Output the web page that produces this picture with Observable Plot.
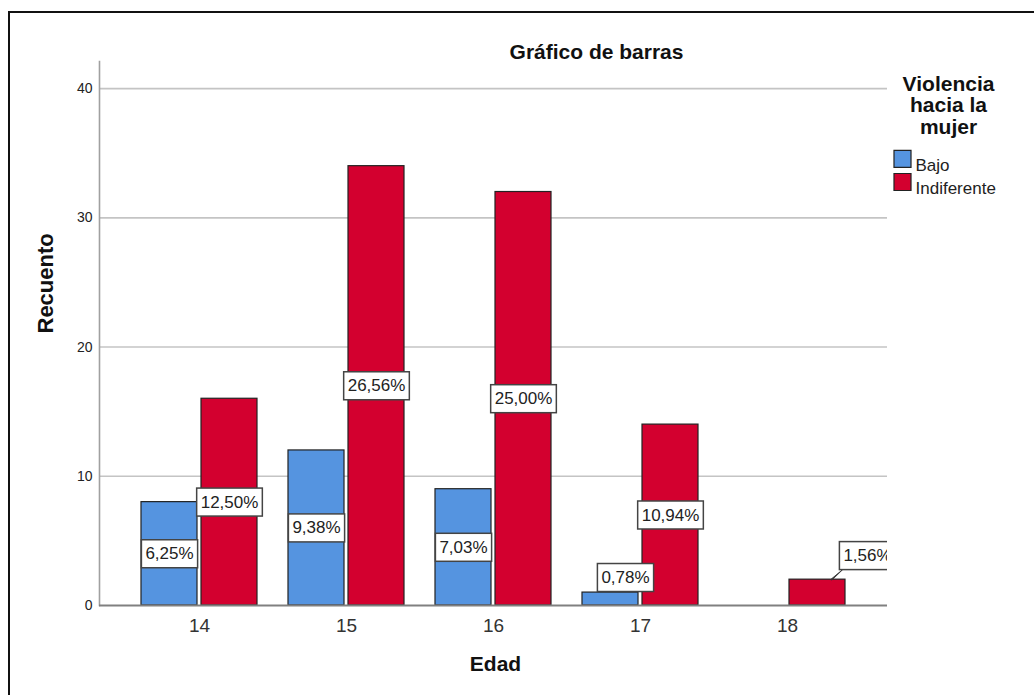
<!DOCTYPE html>
<html><head><meta charset="utf-8">
<script src="https://cdn.jsdelivr.net/npm/d3@7"></script>
<script src="https://cdn.jsdelivr.net/npm/@observablehq/plot@0.6"></script>
<style>
html,body{margin:0;padding:0;background:#fff;overflow:hidden;}
#wrap{position:relative;width:1034px;height:695px;overflow:hidden;}
#border{position:absolute;left:8px;top:11px;width:1100px;height:800px;border:2px solid #111;pointer-events:none;}
</style></head><body>
<div id="wrap"><div id="chart"></div><div id="border"></div></div>
<script>
const ages = ["14", "15", "16", "17", "18"];
const series = ["Bajo", "Indiferente"];
const bajo = [8, 12, 9, 1, 0];
const indiferente = [16, 34, 32, 14, 2];
const colors = ["#5594E0", "#D3002F"];
const yTicks = [0, 10, 20, 30, 40];
const title = "Gráfico de barras";
const yLabel = "Recuento";
const xLabel = "Edad";
const legendTitle = "Violencia\nhacia la\nmujer";

const rows = ages.flatMap((age, i) => [
  {age, series: series[0], value: bajo[i]},
  {age, series: series[1], value: indiferente[i]}
]);
const total = d3.sum(rows, d => d.value);
const pct = v => (v / total * 100).toFixed(2).replace(".", ",") + "%";

const font = "'Liberation Sans', Arial, sans-serif";
const bajoRows = rows.filter(d => d.series === series[0] && d.value > 0);
const indRows = rows.filter(d => d.series === series[1] && d.value > 0);
const fits = d => d.value >= 3;

const lbl = {text: d => pct(d.value), fontSize: 17, fill: "#222", clip: "frame"};

const legendMarks = series.flatMap((s, i) => [
  Plot.dot([s], {frameAnchor: "top-right", dx: 15, dy: 97.3 + i * 23.2, symbol: "square", r: 9.6, fill: d => d, stroke: "#222", strokeWidth: 1.2}),
  Plot.text([s], {text: d => d, frameAnchor: "top-right", dx: 28, dy: 97.3 + i * 23.2, textAnchor: "start", fontSize: 17, fill: "#222"})
]);

const chart = Plot.plot({
  width: 1034,
  height: 695,
  marginLeft: 99,
  marginRight: 147,
  marginTop: 61,
  marginBottom: 90,
  style: {fontFamily: font, color: "#222", background: "transparent", overflow: "visible"},
  x: {domain: ages, paddingInner: 0.2125, paddingOuter: 0.285, label: null},
  y: {domain: [0, 42.1], label: null},
  color: {domain: series, range: colors},
  marks: [
    Plot.gridY(yTicks.filter(t => t > 0), {stroke: "#c4c4c4", strokeOpacity: 1, strokeWidth: 1.6}),
    Plot.frame({anchor: "left", stroke: "#a0a0a0", strokeWidth: 1.6}),
    Plot.axisY({ticks: yTicks, tickSize: 0, tickPadding: 7, fontSize: 14, label: null}),
    Plot.axisX({tickSize: 0, tickPadding: 13, fontSize: 19, label: null, fill: "#333"}),
    Plot.barY(bajoRows, {x: "age", y: "value", fill: "series", stroke: "#222", strokeWidth: 1.2, insetRight: 60}),
    Plot.barY(indRows, {x: "age", y: "value", fill: "series", stroke: "#222", strokeWidth: 1.2, insetLeft: 60}),
    Plot.ruleY([0], {stroke: "#808080", strokeWidth: 2}),
    Plot.text(bajoRows.filter(fits), {...lbl, x: "age", y: d => d.value / 2, dx: -30}),
    Plot.text(indRows.filter(fits), {...lbl, x: "age", y: d => d.value / 2, dx: 30}),
    Plot.text(bajoRows.filter(d => !fits(d)), {...lbl, x: "age", y: "value", dx: -15, dy: -15}),
    Plot.vector(indRows.filter(d => !fits(d)), {x: "age", y: "value", dx: 44, anchor: "start", length: 15, rotate: 48, shape: "spike", r: 0.6, fill: "#333", stroke: "#333", strokeWidth: 0.8}),
    Plot.text(indRows.filter(d => !fits(d)), {...lbl, x: "age", y: "value", dx: 80, dy: -24}),
    Plot.text([title], {text: d => d, frameAnchor: "top", dx: 103, dy: -17, fontSize: 21, fontWeight: "bold", fill: "#111"}),
    Plot.text([yLabel], {text: d => d, frameAnchor: "left", dx: -54, rotate: -90, fontSize: 22, fontWeight: "bold", fill: "#111"}),
    Plot.text([xLabel], {text: d => d, frameAnchor: "bottom", dx: 2, dy: 65, fontSize: 21, fontWeight: "bold", fill: "#111"}),
    Plot.text([legendTitle], {text: d => d, frameAnchor: "top-right", dx: 61, dy: 14, lineAnchor: "top", textAnchor: "middle", fontSize: 21, fontWeight: "bold", lineHeight: 1.03, fill: "#111"}),
    ...legendMarks
  ]
});
document.getElementById("chart").appendChild(chart);

// white boxes behind the percentage labels
chart.querySelectorAll("text").forEach(t => {
  if (!/%$/.test(t.textContent) || t.children.length) return;
  const b = t.getBBox();
  const r = document.createElementNS("http://www.w3.org/2000/svg", "rect");
  r.setAttribute("x", b.x - 4);
  r.setAttribute("y", b.y - 4.5);
  r.setAttribute("width", b.width + 8);
  r.setAttribute("height", b.height + 9);
  r.setAttribute("fill", "#fff");
  r.setAttribute("stroke", "#444");
  r.setAttribute("stroke-width", "1.5");
  if (t.getAttribute("transform")) r.setAttribute("transform", t.getAttribute("transform"));
  t.parentNode.insertBefore(r, t);
});
</script>
</body></html>
